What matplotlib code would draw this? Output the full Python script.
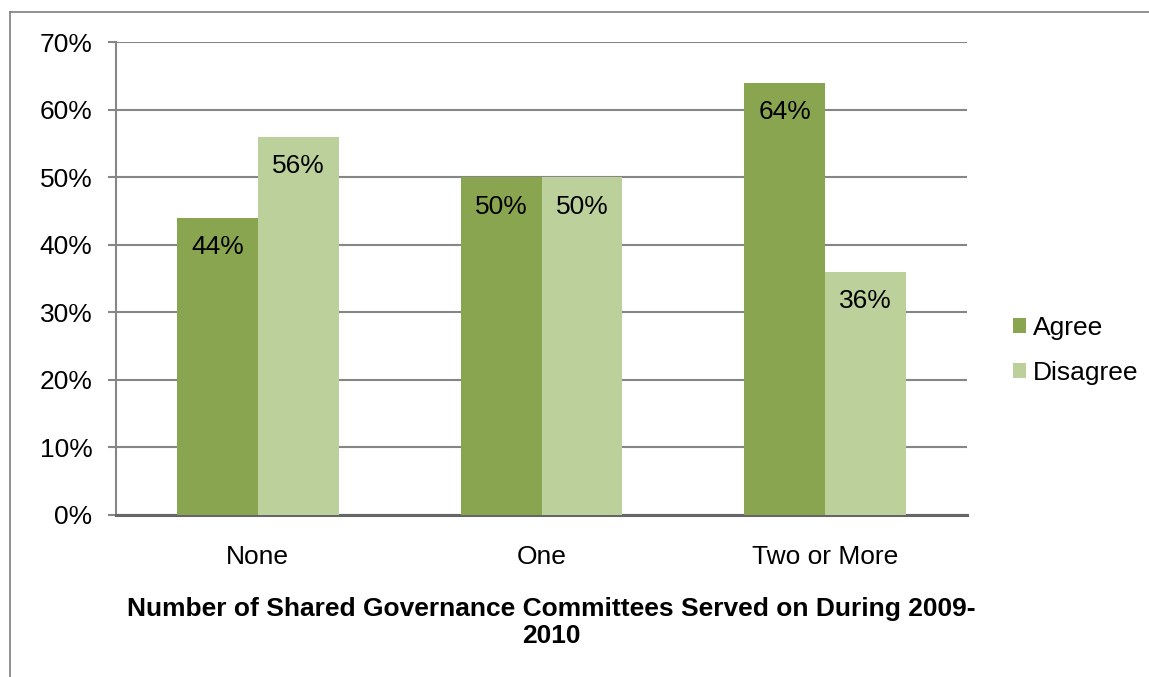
import matplotlib
matplotlib.use("Agg")
import matplotlib.pyplot as plt
from matplotlib.lines import Line2D
import numpy as np

plt.rcParams['font.family'] = ['Liberation Sans', 'DejaVu Sans']

categories = ["None", "One", "Two or More"]
agree = [44, 50, 64]
disagree = [56, 50, 36]
series_names = ["Agree", "Disagree"]
yticks = [0, 10, 20, 30, 40, 50, 60, 70]
xlabel = "Number of Shared Governance Committees Served on During 2009-\n2010"

c_agree = "#8AA54F"
c_dis = "#BBD09A"
grid_c = "#868686"
FS = 19

W, H = 1149, 677
fig = plt.figure(figsize=(W/100, H/100), dpi=100)
ax = fig.add_axes([116/W, 1-515/H, (967-116)/W, (515-42)/H])

x = np.arange(len(categories))
bw = 0.285
b1 = ax.bar(x - bw/2, agree, bw, color=c_agree, label=series_names[0], zorder=3)
b2 = ax.bar(x + bw/2, disagree, bw, color=c_dis, label=series_names[1], zorder=3)

for bars, vals in ((b1, agree), (b2, disagree)):
    for r, v in zip(bars, vals):
        ax.annotate(f"{v}%", (r.get_x() + r.get_width()/2, v), xytext=(0, -21.3),
                    textcoords="offset points", ha="center", va="center",
                    fontsize=FS, color="black", zorder=4)

ax.set_xlim(-0.5, 2.5)
ax.set_ylim(0, 70)
ax.set_yticks(yticks)
ax.set_yticklabels([f"{t}%" for t in yticks], fontsize=FS)
ax.set_xticks(x)
ax.set_xticklabels(categories, fontsize=FS)
ax.tick_params(axis='x', length=0, pad=21.5)
ax.tick_params(axis='y', length=5.5, width=1.5, color=grid_c, pad=11.5)
ax.yaxis.grid(True, color=grid_c, linewidth=1.5, zorder=0)
ax.set_axisbelow(True)
for s in ("top", "right"):
    ax.spines[s].set_visible(False)
ax.spines['left'].set_color(grid_c)
ax.spines['left'].set_linewidth(1.5)
ax.spines['bottom'].set_color("#666666")
ax.spines['bottom'].set_linewidth(2.2)

fig.text(551/W, 1-622.5/H, xlabel, ha="center", va="center", fontsize=FS,
         fontweight="bold", linespacing=1.12)

leg = fig.legend(handles=[b1, b2], labels=series_names, loc="center left",
                 bbox_to_anchor=(1002/W, 1-350.5/H), frameon=False, fontsize=FS,
                 handlelength=0.5, handleheight=0.5, handletextpad=0.27,
                 labelspacing=0.8, borderaxespad=0)

# outer chart border (top and left visible)
fig.add_artist(Line2D([10/W, 10/W], [0, 1-12/H], transform=fig.transFigure,
                      color="#7f7f7f", linewidth=1.2))
fig.add_artist(Line2D([10/W, 1], [1-12/H, 1-12/H], transform=fig.transFigure,
                      color="#7f7f7f", linewidth=1.2))

fig.savefig("out.png", dpi=100)
